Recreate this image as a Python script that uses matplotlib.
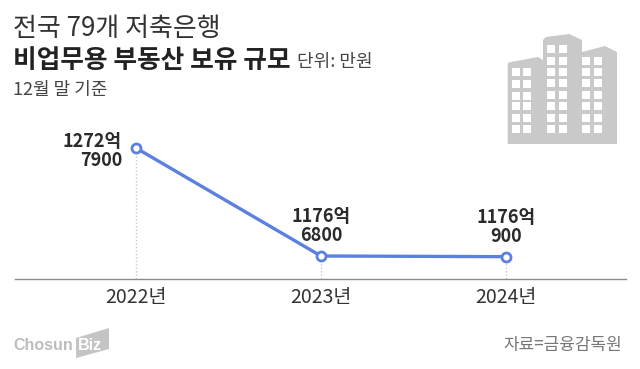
import matplotlib
matplotlib.use('Agg')
import matplotlib.pyplot as plt
from matplotlib.patches import Polygon, Rectangle

plt.rcParams['font.family'] = ['Noto Sans CJK KR', 'DejaVu Sans']

# values in 만원
years = ['2022년', '2023년', '2024년']
values = [12727900, 11766800, 11760900]
labels = ['1272억\n7900', '1176억\n6800', '1176억\n900']

W, H = 640, 369
fig = plt.figure(figsize=(W / 100, H / 100), dpi=100, facecolor='white')

# chart axes: baseline at y=279px, points at x=136/321/506px
ax = fig.add_axes([15 / W, (H - 279) / H, (626 - 15) / W, 179 / H])
ax.set_xlim(-0.654, 2.649)
ax.set_ylim(11562100, 13155000)
ax.patch.set_alpha(0)
for s in ['top', 'left', 'right']:
    ax.spines[s].set_visible(False)
ax.spines['bottom'].set_color('#8c8c8c')
ax.spines['bottom'].set_linewidth(1)
ax.set_yticks([])
ax.set_xticks(range(3))
ax.set_xticklabels(years, fontsize=14, color='#333333')
ax.tick_params(axis='x', length=0, pad=6)

ax.vlines(range(3), 11562100, values, color='#c8c8c8', lw=1, ls=(0, (1, 1.5)), zorder=1)
ax.plot(range(3), values, color='#5b80e0', lw=2.4, marker='o', ms=6.5,
        mfc='white', mec='#5b80e0', mew=2, zorder=3)

label_style = dict(fontsize=13, fontweight='bold', color='#2a2a2a', linespacing=1.0)
ax.annotate(labels[0], (0, values[0]), xytext=(-14, -3), textcoords='offset pixels',
            ha='right', va='center', **label_style)
ax.annotate(labels[1], (1, values[1]), xytext=(0, 11), textcoords='offset pixels',
            ha='center', va='bottom', **label_style)
ax.annotate(labels[2], (2, values[2]), xytext=(0, 11), textcoords='offset pixels',
            ha='center', va='bottom', **label_style)

# overlay in pixel coordinates for titles, building and logo
ov = fig.add_axes([0, 0, 1, 1])
ov.set_xlim(0, W)
ov.set_ylim(H, 0)
ov.axis('off')
ov.patch.set_alpha(0)

ov.text(13, 28, '전국 79개 저축은행', fontsize=18.7, color='#333333', va='center')
ov.text(13, 60, '비업무용 부동산 보유 규모', fontsize=18.5, fontweight='bold', color='#222222', va='center')
ov.text(297, 62, '단위: 만원', fontsize=13, color='#444444', va='center')
ov.text(13, 90, '12월 말 기준', fontsize=13, color='#444444', va='center')
ov.text(622, 345, '자료=금융감독원', fontsize=12.2, color='#777777', va='center', ha='right')

# building icon
grey = '#c9c9c9'
ov.add_patch(Polygon([(507.7, 144), (507.7, 63), (511, 62), (538, 57), (543, 60), (543, 144)], fc=grey, ec='none'))
ov.add_patch(Polygon([(543, 144), (543, 40), (546, 37), (569, 34), (582, 40), (582, 144)], fc=grey, ec='none'))
ov.add_patch(Polygon([(582, 144), (582, 52), (605, 46), (617, 52), (617, 144)], fc=grey, ec='none'))
rows_left = [68, 80, 92, 102, 114, 125]
rows_mid = [45, 57, 68, 79, 91, 102, 114, 125]
rows_right = [57, 68, 79, 91, 102, 114, 125]
for cols, rows in [((512, 523), rows_left), ((547, 559), rows_mid), ((582, 594), rows_right)]:
    for cx in cols:
        for ry in rows:
            ov.add_patch(Rectangle((cx, ry), 7.5, 7.5, fc='white', ec='none'))

# logo
ov.add_patch(Polygon([(76, 338), (109, 328), (109, 349), (76, 358)], fc='#c4c4c4', ec='none'))
ov.text(13, 345, 'Chosun', fontsize=11.5, fontweight='bold', color='#bdbdbd', va='center', family='Liberation Sans')
ov.text(78, 345, 'Biz', fontsize=11.5, fontweight='bold', color='white', va='center', family='Liberation Sans')

fig.savefig('out.png', dpi=100)
